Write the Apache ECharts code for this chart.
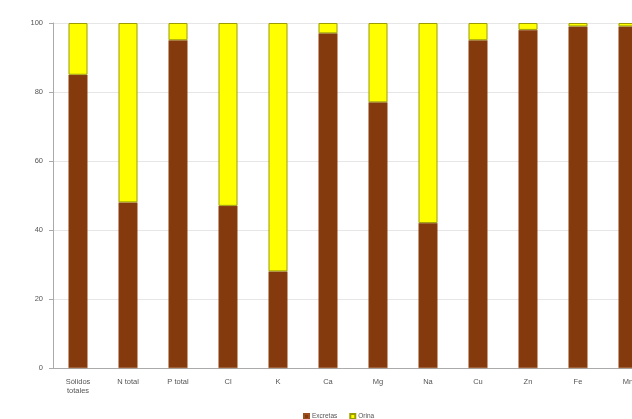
<!DOCTYPE html>
<html>
<head>
<meta charset="utf-8">
<script src="https://cdn.jsdelivr.net/npm/echarts@6/dist/echarts.min.js"></script>
<style>
  html, body { margin: 0; padding: 0; background: #fff; }
  #chart { width: 632px; height: 419px; }
</style>
</head>
<body>
<div id="chart"></div>
<script>
// Share of each element leaving via excreta vs. urine (%)
const categories = ['Sólidos\ntotales', 'N total', 'P total', 'Cl', 'K', 'Ca', 'Mg', 'Na', 'Cu', 'Zn', 'Fe', 'Mn'];
const excretas = [85, 48, 95, 47, 28, 97, 77, 42, 95, 98, 99, 99];
const orina = excretas.map(v => 100 - v);
const yTicks = [0, 20, 40, 60, 80, 100];

const chart = echarts.init(document.getElementById('chart'), null, { renderer: 'canvas' });

const labelFont = { fontFamily: 'Liberation Sans, Arial, sans-serif', fontSize: 7.5, color: '#555' };

chart.setOption({
  animation: false,
  backgroundColor: '#fff',
  // plot area runs past the right edge, so the last column is cut off
  grid: {
    left: 53, top: 23, height: 345, width: 600,
    containLabel: false,
    outerBoundsMode: 'none'
  },
  legend: {
    left: 298,
    top: 408,
    itemWidth: 5,
    itemHeight: 5,
    itemGap: 12,
    icon: 'rect',
    textStyle: Object.assign({}, labelFont, { fontSize: 6.5, padding: [0, 0, 0, -2] }),
    data: ['Excretas', 'Orina']
  },
  xAxis: {
    type: 'category',
    data: categories,
    axisLine: { lineStyle: { color: '#aaa', width: 1 } },
    axisTick: { show: false },
    axisLabel: Object.assign({}, labelFont, { margin: 9, lineHeight: 9, interval: 0 })
  },
  yAxis: {
    type: 'value',
    min: yTicks[0],
    max: yTicks[yTicks.length - 1],
    interval: 20,
    axisLine: { show: true, lineStyle: { color: '#aaa', width: 1 } },
    axisTick: { show: true, length: 4, lineStyle: { color: '#aaa' } },
    axisLabel: Object.assign({}, labelFont, { margin: 10 }),
    splitLine: { lineStyle: { color: '#e6e6e6', width: 1 } }
  },
  series: [
    {
      name: 'Excretas',
      type: 'bar',
      stack: 'total',
      barWidth: 19,
      data: excretas,
      itemStyle: { color: '#843A0C', borderColor: '#9a4f1e', borderWidth: 0.5 }
    },
    {
      name: 'Orina',
      type: 'bar',
      stack: 'total',
      barWidth: 19,
      data: orina,
      itemStyle: { color: '#FFFF00', borderColor: '#9c9c00', borderWidth: 1 }
    }
  ]
});
</script>
</body>
</html>
